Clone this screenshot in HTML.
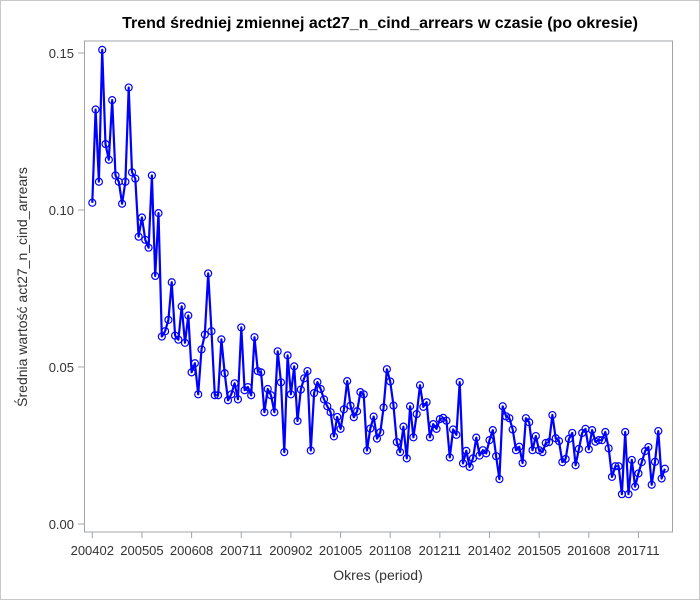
<!DOCTYPE html>
<html><head><meta charset="utf-8"><style>
body{margin:0;background:#fff}
svg{display:block;font-family:"Liberation Sans",sans-serif}
</style></head><body>
<svg id="chart" width="700" height="600" viewBox="0 0 700 600">
<rect x="0.5" y="0.5" width="699" height="599" fill="#fff" stroke="#c8c8c8"/>
<text x="380" y="28" text-anchor="middle" font-size="16" font-weight="bold" fill="#000">Trend średniej zmiennej act27_n_cind_arrears w czasie (po okresie)</text>
<rect x="84.5" y="41" width="588" height="491" fill="none" stroke="#a0a4a8"/>
<g id="yaxis"></g>
<g id="xaxis"></g>
<text transform="translate(27,287) rotate(-90)" text-anchor="middle" font-size="14" fill="#333">Średnia wartość act27_n_cind_arrears</text>
<text x="378" y="580" text-anchor="middle" font-size="14" fill="#333">Okres (period)</text>
<g id="series"></g>
</svg>
<script>
const values=[0.1023,0.132,0.109,0.151,0.121,0.116,0.135,0.111,0.109,0.102,0.109,0.139,0.112,0.110,0.0915,0.0976,0.0905,0.088,0.111,0.079,0.099,
0.0597,0.0614,0.065,0.077,0.060,0.0587,0.0693,0.0577,0.0664,0.0483,0.0512,0.0413,0.0556,0.0603,0.0798,0.0614,0.041,0.041,0.0588,0.048,
0.0394,0.0413,0.0448,0.0397,0.0626,0.0426,0.0436,0.041,0.0595,0.0487,0.0483,0.0356,0.043,0.041,0.0356,0.055,0.0451,0.0229,0.0537,0.0413,
0.0502,0.0328,0.0428,0.0464,0.0487,0.0234,0.0417,0.0452,0.043,0.0397,0.0375,0.0356,0.0279,0.0341,0.0303,0.0365,0.0455,0.0377,0.034,0.0359,
0.042,0.0413,0.0234,0.0304,0.0342,0.0272,0.0292,0.0371,0.0493,0.0454,0.0377,0.0261,0.0229,0.031,0.0209,0.0375,0.0276,0.035,0.0442,0.0373,
0.0388,0.0276,0.0318,0.0303,0.0334,0.0338,0.0329,0.0212,0.0301,0.0284,0.0452,0.0193,0.0233,0.0182,0.0209,0.0275,0.0218,0.0235,0.0225,0.0267,
0.0299,0.0216,0.0143,0.0375,0.0343,0.0337,0.0301,0.0235,0.0246,0.0194,0.0337,0.0324,0.0235,0.028,0.0235,0.0229,0.0258,0.0261,0.0347,0.0273,
0.0264,0.0197,0.0207,0.0271,0.029,0.0187,0.0239,0.029,0.0303,0.0238,0.0299,0.0262,0.0267,0.0267,0.0293,0.0241,0.015,0.0184,0.0184,0.0095,
0.0293,0.0095,0.0204,0.0119,0.0161,0.0197,0.0232,0.0245,0.0125,0.0198,0.0296,0.0145,0.0176];
const yTicks=[0,0.05,0.10,0.15];
const yTickLabels=["0.00","0.05","0.10","0.15"];
const xTickLabels=["200402","200505","200608","200711","200902","201005","201108","201211","201402","201505","201608","201711"];
const startYear=2004, startMonth=2;
const categories=[];
for(let i=0;i<values.length;i++){const m=startMonth-1+i;categories.push(String(startYear+Math.floor(m/12))+String(m%12+1).padStart(2,'0'));}
const NS="http://www.w3.org/2000/svg";
const X0=92.3, DX=3.31;
const xs=i=>X0+i*DX;
const ys=v=>524-v/0.05*157;
function mk(t,a,p){const e=document.createElementNS(NS,t);for(const k in a)e.setAttribute(k,a[k]);p.appendChild(e);return e;}
const ya=document.getElementById('yaxis');
yTicks.forEach((v,k)=>{const y=ys(v);
 const t=mk('line',{x1:78,x2:84,y1:y,y2:y,stroke:'#a0a4a8'},ya);
 
 
 const l=mk('text',{x:74,y:y+5,'text-anchor':'end','font-size':13,fill:'#333'},ya);l.textContent=yTickLabels[k];
 
 
});
const xa=document.getElementById('xaxis');
xTickLabels.forEach(lab=>{const i=categories.indexOf(lab);const x=xs(i);
 const t=mk('line',{x1:x,x2:x,y1:532,y2:538,stroke:'#a0a4a8'},xa);
 
 
 const l=mk('text',{x:x,y:555,'text-anchor':'middle','font-size':13,fill:'#333'},xa);l.textContent=lab;
 
 
});
const sg=document.getElementById('series');
const pts=values.map((v,i)=>xs(i).toFixed(1)+','+ys(v).toFixed(1)).join(' ');
const pl=mk('polyline',{points:pts,fill:'none',stroke:'#0000ff','stroke-width':2.2,'stroke-linejoin':'round'},sg);


values.forEach((v,i)=>{const c=mk('circle',{cx:xs(i),cy:ys(v),r:3.5,fill:'none',stroke:'#0000ff','stroke-width':1.2},sg);
 
 
});
</script>
</body></html>
